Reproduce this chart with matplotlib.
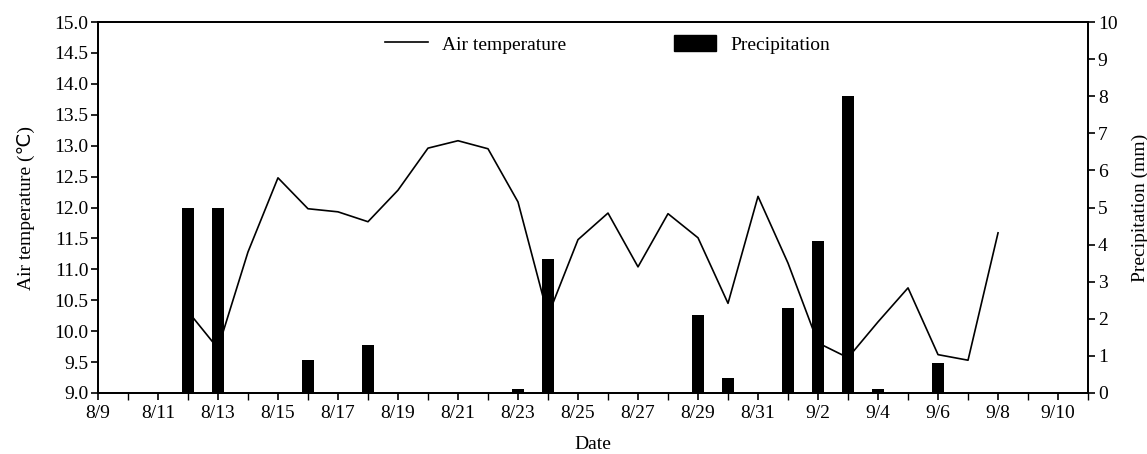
import matplotlib
matplotlib.use("Agg")
import matplotlib.pyplot as plt
import matplotlib.dates as mdates
import pandas as pd
from matplotlib.patches import Rectangle
from matplotlib.lines import Line2D

# daily air temperature (left axis)
temp_dates = ["8/12", "8/13", "8/14", "8/15", "8/16", "8/17", "8/18", "8/19", "8/20",
              "8/21", "8/22", "8/23", "8/24", "8/25", "8/26", "8/27", "8/28", "8/29",
              "8/30", "8/31", "9/1", "9/2", "9/3", "9/4", "9/5", "9/6", "9/7", "9/8"]
temp_values = [10.32, 9.72, 11.28, 12.48, 11.98, 11.93, 11.77, 12.28, 12.96,
               13.08, 12.95, 12.09, 10.25, 11.48, 11.91, 11.04, 11.90, 11.51,
               10.45, 12.18, 11.10, 9.81, 9.57, 10.15, 10.70, 9.62, 9.53, 11.59]

# daily precipitation (right axis)
rain_dates = ["8/12", "8/13", "8/16", "8/18", "8/23", "8/24", "8/29", "8/30",
              "9/1", "9/2", "9/3", "9/4", "9/6"]
rain_values = [5.0, 5.0, 0.9, 1.3, 0.1, 3.6, 2.1, 0.4, 2.3, 4.1, 8.0, 0.1, 0.8]


def to_dates(labels):
    return pd.to_datetime(["2020/" + s for s in labels], format="%Y/%m/%d")


plt.rcParams["font.family"] = ["Liberation Serif", "DejaVu Sans"]
plt.rcParams["font.size"] = 14

fig = plt.figure(figsize=(11.47, 4.54), dpi=100)
ax = fig.add_axes([0.0854, 0.1344, 0.8632, 0.8171])
ax2 = ax.twinx()

ax.plot(to_dates(temp_dates), temp_values, color="black", linewidth=1.2)
ax2.bar(to_dates(rain_dates), rain_values, width=0.38, color="black")

ax.set_xlim(pd.Timestamp("2020-08-09"), pd.Timestamp("2020-09-11"))
ax.set_ylim(9.0, 15.0)
ax2.set_ylim(0, 10)

ax.set_yticks([9.0 + 0.5 * i for i in range(13)])
ax.yaxis.set_major_formatter(matplotlib.ticker.FormatStrFormatter("%.1f"))
ax2.set_yticks(range(0, 11))

xt = pd.date_range("2020-08-09", "2020-09-10", freq="2D")
ax.set_xticks(xt)
ax.set_xticklabels([f"{d.month}/{d.day}" for d in xt])
ax.xaxis.set_minor_locator(mdates.DayLocator())

for a in (ax, ax2):
    a.tick_params(which="major", direction="out", length=5, width=1.2, pad=2)
    a.tick_params(which="minor", direction="out", length=3, width=1.0)
    for sp in a.spines.values():
        sp.set_linewidth(1.3)
ax.tick_params(axis="x", which="major", pad=4)
ax.tick_params(axis="x", which="minor", length=5)

ax.set_xlabel("Date", labelpad=10)
ax.set_ylabel("Air temperature (℃)", labelpad=14)
ax2.set_ylabel("Precipitation (mm)", labelpad=10)

handles = [Line2D([], [], color="black", linewidth=1.2),
           Rectangle((0, 0), 1, 1, color="black")]
ax.legend(handles, ["Air temperature", "Precipitation"], loc="upper center",
          ncol=2, frameon=False, bbox_to_anchor=(0.515, 1.012), columnspacing=5.5,
          handlelength=2.2, handleheight=0.9, handletextpad=0.75)

fig.savefig("out.png", dpi=100)
